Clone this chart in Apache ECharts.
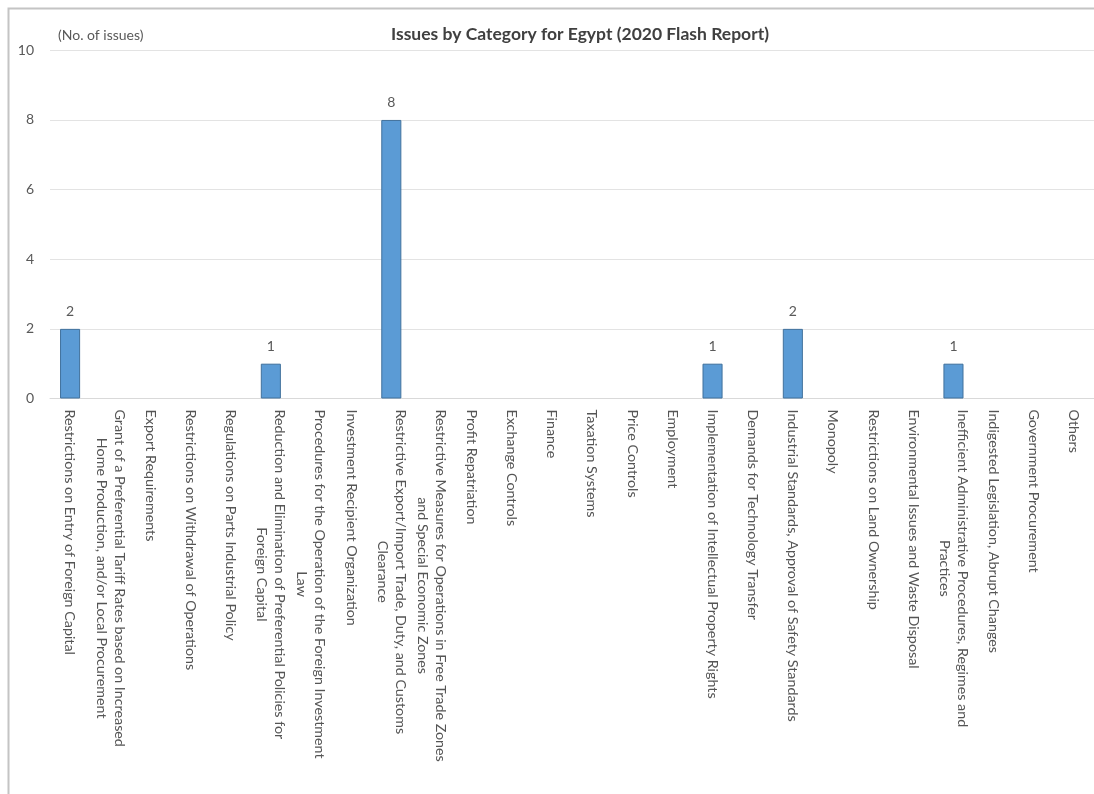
<!DOCTYPE html>
<html>
<head>
<meta charset="utf-8">
<script src="https://cdn.jsdelivr.net/npm/echarts@6/dist/echarts.min.js"></script>
<style>
  html, body { margin: 0; padding: 0; background: #ffffff; }
  #chart { width: 1094px; height: 794px; }
</style>
</head>
<body>
<div id="chart"></div>
<script>
// Issue categories (line breaks follow the wrapped axis labels)
const categories = [
  "Restrictions on Entry of Foreign Capital",
  "Grant of a Preferential Tariff Rates based on Increased\nHome Production, and/or Local Procurement",
  "Export Requirements",
  "Restrictions on Withdrawal of Operations",
  "Regulations on Parts Industrial Policy",
  "Reduction and Elimination of Preferential Policies for\nForeign Capital",
  "Procedures for the Operation of the Foreign Investment\nLaw",
  "Investment Recipient Organization",
  "Restrictive Export/Import Trade, Duty, and Customs\nClearance",
  "Restrictive Measures for Operations in Free Trade Zones\nand Special Economic Zones",
  "Profit Repatriation",
  "Exchange Controls",
  "Finance",
  "Taxation Systems",
  "Price Controls",
  "Employment",
  "Implementation of Intellectual Property Rights",
  "Demands for Technology Transfer",
  "Industrial Standards, Approval of Safety Standards",
  "Monopoly",
  "Restrictions on Land Ownership",
  "Environmental Issues and Waste Disposal",
  "Inefficient Administrative Procedures, Regimes and\nPractices",
  "Indigested Legislation, Abrupt Changes",
  "Government Procurement",
  "Others"
];

// Number of issues per category
const issueCounts = [2, 0, 0, 0, 0, 1, 0, 0, 8, 0, 0, 0, 0, 0, 0, 0, 1, 0, 2, 0, 0, 0, 1, 0, 0, 0];

// Value axis range
const yMin = 0;
const yMax = 10;
const yStep = 2;

const FONT = "Lato, 'Open Sans', sans-serif";
const GREY = "#595959";

const chart = echarts.init(document.getElementById('chart'), null, { renderer: 'canvas' });

const barData = issueCounts.map(v => v === 0
  ? { value: v, itemStyle: { borderWidth: 0 }, label: { show: false } }
  : v);

chart.setOption({
  animation: false,
  backgroundColor: '#ffffff',
  title: {
    text: 'Issues by Category for Egypt (2020 Flash Report)',
    left: 575,
    top: 20,
    textAlign: 'center',
    textStyle: { fontFamily: FONT, fontSize: 17.5, fontWeight: 'bold', color: '#404040' }
  },
  graphic: [{
    type: 'rect',
    silent: true,
    shape: { x: 8.5, y: 8.5, width: 1200, height: 1000 },
    style: { fill: null, stroke: '#c4c4c4', lineWidth: 2 },
    z: 100
  }],
  grid: { left: 50, right: -6, top: 50.3, bottom: 395.5, containLabel: false },
  xAxis: {
    type: 'category',
    data: categories,
    axisLine: { show: true, lineStyle: { color: '#d9d9d9', width: 1 } },
    axisTick: { show: false },
    axisLabel: {
      interval: 0,
      rotate: -90,
      margin: 11,
      formatter: v => v.split('\n').map(s => '{c|' + s + '}').join('\n'),
      rich: {
        c: { align: 'center', fontFamily: FONT, fontSize: 14.3, lineHeight: 18, color: '#555555' }
      }
    }
  },
  yAxis: {
    type: 'value',
    min: yMin,
    max: yMax,
    interval: yStep,
    name: '(No. of issues)',
    nameLocation: 'end',
    nameGap: 8,
    nameTextStyle: { fontFamily: FONT, fontSize: 14, color: GREY, align: 'left', padding: [0, 0, 0, 8] },
    axisLine: { show: false },
    axisTick: { show: false },
    axisLabel: { fontFamily: FONT, fontSize: 14, color: GREY, margin: 16 },
    splitLine: { lineStyle: { color: '#e3e3e3', width: 1 } }
  },
  series: [{
    type: 'bar',
    data: barData,
    barWidth: '50%',
    itemStyle: { color: '#5b9bd5', borderColor: '#41719c', borderWidth: 1 },
    label: {
      show: true,
      position: 'top',
      distance: 10,
      fontFamily: FONT,
      fontSize: 14,
      color: GREY
    }
  }]
});
</script>
</body>
</html>
